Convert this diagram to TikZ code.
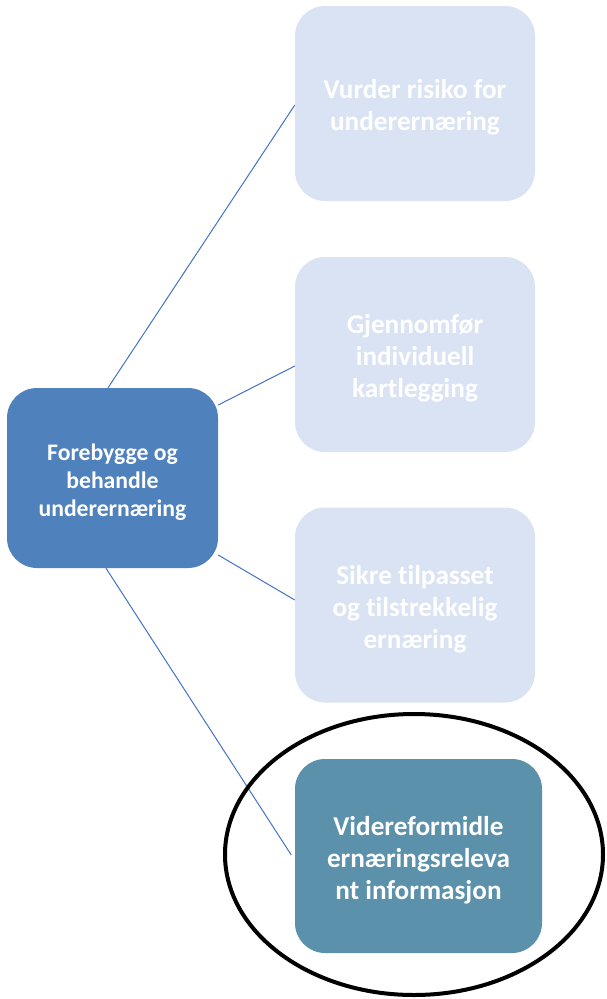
\documentclass[tikz,border=0pt]{standalone}
\usepackage{fontspec}
\setmainfont{Carlito}[Ligatures={NoCommon}]
\usetikzlibrary{backgrounds,calc,shapes.geometric}

\definecolor{rootblue}{HTML}{4F81BD}
\definecolor{paleblue}{HTML}{DAE3F3}
\definecolor{tealblue}{HTML}{5B91AB}
\definecolor{linkblue}{HTML}{4472C4}

% centred lines of box text; extra room on top sets them a little below the box centre
\newcommand{\boxlines}[1]{\raisebox{0pt}[\dimexpr\height+10pt\relax][\depth]{\begin{tabular}{@{}c@{}}#1\end{tabular}}}

\tikzset{
  rootbox/.style={rectangle, rounded corners=30pt, fill=rootblue, text=white,
    minimum width=211pt, minimum height=180pt,
    font=\fontsize{23.7}{28}\selectfont\bfseries, inner sep=0pt},
  leafbox/.style={rectangle, rounded corners=30pt, fill=paleblue, text=white,
    minimum width=240pt, minimum height=195pt,
    font=\fontsize{27.2}{32}\selectfont\bfseries, inner sep=0pt},
  activebox/.style={leafbox, fill=tealblue, minimum width=247pt, minimum height=194pt},
  link/.style={draw=linkblue, line width=1pt},
  ring/.style={ellipse, draw=black, line width=4pt, minimum width=378pt, minimum height=281pt}
}

\begin{document}
\begin{tikzpicture}[x=1pt, y=-1pt]
  \useasboundingbox (0,0) rectangle (606,999);

  \node[rootbox]   (L) at (112.5,478)  {\boxlines{Forebygge og\\behandle\\underernæring}};
  \node[leafbox]   (A) at (415,103.5)  {\boxlines{Vurder risiko for\\underernæring}};
  \node[leafbox]   (B) at (415,354.5)  {\boxlines{Gjennomfør\\individuell\\kartlegging}};
  \node[leafbox]   (C) at (415,605)    {\boxlines{Sikre tilpasset\\og tilstrekkelig\\ernæring}};
  \node[activebox] (D) at (418.5,856)  {\boxlines{Videreformidle\\ernæringsreleva\\nt informasjon}};

  \node[ring] (E) at (414,854.5) {};

  \begin{scope}[on background layer]
    \draw[link] ([xshift=-4.5pt]L.north) -- ([yshift=-1.5pt]A.west);
    \draw[link] ([yshift=73pt]L.east) -- ([yshift=-11.5pt]B.west);
    \draw[link] ([yshift=-77pt]L.east) -- ([yshift=5pt]C.west);
    \draw[link] ([xshift=-6.5pt]L.south) -- ([xshift=-3.5pt,yshift=1pt]D.west);
  \end{scope}
\end{tikzpicture}
\end{document}
